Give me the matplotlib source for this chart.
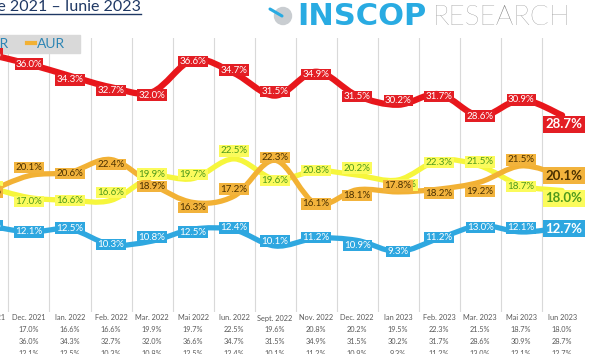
import numpy as np
import matplotlib
matplotlib.use('Agg')
import matplotlib.pyplot as plt
import matplotlib.transforms as mtransforms
from matplotlib.path import Path
from matplotlib.patches import PathPatch, Rectangle, Ellipse
from matplotlib.lines import Line2D

months = ["Nov. 2021", "Dec. 2021", "Ian. 2022", "Feb. 2022", "Mar. 2022", "Mai 2022",
          "Iun. 2022", "Sept. 2022", "Nov. 2022", "Dec. 2022", "Ian 2023", "Feb. 2023",
          "Mar. 2023", "Mai 2023", "Iun 2023"]
psd = [37.4, 36.0, 34.3, 32.7, 32.0, 36.6, 34.7, 31.5, 34.9, 31.5, 30.2, 31.7, 28.6, 30.9, 28.7]
pnl = [18.5, 17.0, 16.6, 16.6, 19.9, 19.7, 22.5, 19.6, 20.8, 20.2, 19.5, 22.3, 21.5, 18.7, 18.0]
usr = [13.0, 12.1, 12.5, 10.3, 10.8, 12.5, 12.4, 10.1, 11.2, 10.9, 9.3, 11.2, 13.0, 12.1, 12.7]
aur = [17.8, 20.1, 20.6, 22.4, 18.9, 16.3, 17.2, 22.3, 16.1, 18.1, 17.8, 18.2, 19.2, 21.5, 20.1]
party_names = ["PSD", "PNL", "USR", "AUR"]

W, H = 590, 354

# label nudges in pixels (up is positive)
psd_dy = [0, 0, -4, -3, -3, -2, 3, 4, -3, -1, 4, -2, 0, 0, -9]
pnl_dy = [0, -4, 0, 8, 3, 4, 8, -1, 0, 7, -5, -2, 4, -1, -8]
usr_dy = [0, 0, 1, 0, 4, -3, 2, 5, 1, -5, 0, 1, -2, 4, -1]
aur_dy = [0, 8, -1, -5, -2, -5, 7, 3, 0, -6, 6, -4, -9, 6, 0]
pnl_dx = [0] * 15
pnl_dx[10] = 5


def smooth_path(xs, ys):
    pts = np.column_stack([xs, ys]).astype(float)
    verts = [pts[0]]
    codes = [Path.MOVETO]
    n = len(pts)
    for i in range(n - 1):
        p0 = pts[i - 1] if i > 0 else pts[i]
        p1 = pts[i]
        p2 = pts[i + 1]
        p3 = pts[i + 2] if i + 2 < n else pts[i + 1]
        verts += [p1 + (p2 - p0) / 6, p2 - (p3 - p1) / 6, p2]
        codes += [Path.CURVE4] * 3
    return Path(verts, codes)


def px(x, y):
    return x / W, 1 - y / H


fig = plt.figure(figsize=(5.9, 3.54), dpi=100)
fig.patch.set_facecolor('white')
ax = fig.add_axes([0, 1 - 312 / H, 1, (312 - 38) / H])
ax.set_xlim(0.293, 14.68)
ax.set_ylim(0.71, 39.7)
ax.axis('off')

x = np.arange(len(months))
for b in x[:-1]:
    ax.axvline(b + 0.5, color='#d9d9d9', lw=0.8, zorder=1)

series = [
    # values, line color, box color, text color, dy, width, zorder
    (usr, '#2fa8e0', '#2ea7e0', 'white', usr_dy, 3.8, 2),
    (pnl, '#f6f63c', '#fbfb5c', '#4e9a1c', pnl_dy, 3.8, 3),
    (aur, '#f2b134', '#f2b33c', '#4a3000', aur_dy, 3.8, 4),
    (psd, '#e8161b', '#e31e24', 'white', psd_dy, 4.5, 5),
]

for vals, lc, bc, tc, dys, lw, z in series:
    patch = PathPatch(smooth_path(x, vals), fill=False, edgecolor=lc, lw=lw,
                      capstyle='round', joinstyle='round', zorder=z)
    ax.add_patch(patch)
    for i, v in enumerate(vals):
        last = i == len(vals) - 1
        dx = pnl_dx[i] if vals is pnl else 0
        if last:
            dx = 2
        ax.annotate(f"{v:.1f}%", (i, v), xytext=(dx * 0.72, dys[i] * 0.72),
                    textcoords='offset points', ha='center', va='center',
                    family='Lato', fontsize=9.5 if last else 7,
                    fontweight='bold' if last else 'normal', color=tc,
                    bbox=dict(boxstyle='square,pad=0.18' if last else 'square,pad=0.12',
                              fc=bc, ec='none'),
                    zorder=10 + z, annotation_clip=False)

# table under the chart
trans = mtransforms.blended_transform_factory(ax.transData, fig.transFigure)
rows = [months,
        [f"{v:.1f}%" for v in pnl],
        [f"{v:.1f}%" for v in psd],
        [f"{v:.1f}%" for v in usr],
        [f"{v:.1f}%" for v in aur]]
row_y = [318, 330, 342, 353, 365]
for labels, yy in zip(rows, row_y):
    for i, t in enumerate(labels):
        ax.text(i, 1 - yy / H, t, transform=trans, ha='center', va='center',
                family='Lato', fontsize=5.3, color='#595959', clip_on=False)

# title (cut at the left edge)
fig.text(*px(141, 11), "Evoluția intenției de vot Noiembrie 2021 – Iunie 2023",
         ha='right', va='baseline', family='Lato', fontsize=11.5, color='#1f3864')
fig.add_artist(Line2D([0, 141 / W], [1 - 14 / H, 1 - 14 / H], color='#1f3864', lw=1.0))

# logo
fig.add_artist(Ellipse(px(283, 16), 17 / W, 17 / H, color='#c9cdd1'))
fig.add_artist(Line2D([270 / W, 282 / W], [1 - 9 / H, 1 - 16 / H], color='#29abe2',
                      lw=2.2, solid_capstyle='round'))
fig.text(*px(297, 25), "INSCOP", ha='left', va='baseline', family='DejaVu Sans',
         fontweight='bold', fontsize=22, color='#29abe2')
fig.text(*px(433, 25), "RESEARCH", ha='left', va='baseline', family='Lato',
         fontweight='light', fontsize=20, color='#7a7a7a')

# legend (cut at the left edge)
fig.add_artist(Rectangle(px(0, 53), 80 / W, 18 / H, color='#d9d9d9', zorder=0))
handles = [Line2D([], [], color=c, lw=3) for c in ['#e8161b', '#f6f63c', '#2fa8e0', '#f2b134']]
fig.legend(handles, party_names, ncol=4, loc='center right',
           bbox_to_anchor=px(65, 44), frameon=False,
           prop={'family': 'Lato', 'size': 10}, labelcolor='#2e86b5',
           handlelength=0.6, handletextpad=0.1, columnspacing=1.3, borderpad=0,
           borderaxespad=0)

fig.savefig('out.png', dpi=100)
